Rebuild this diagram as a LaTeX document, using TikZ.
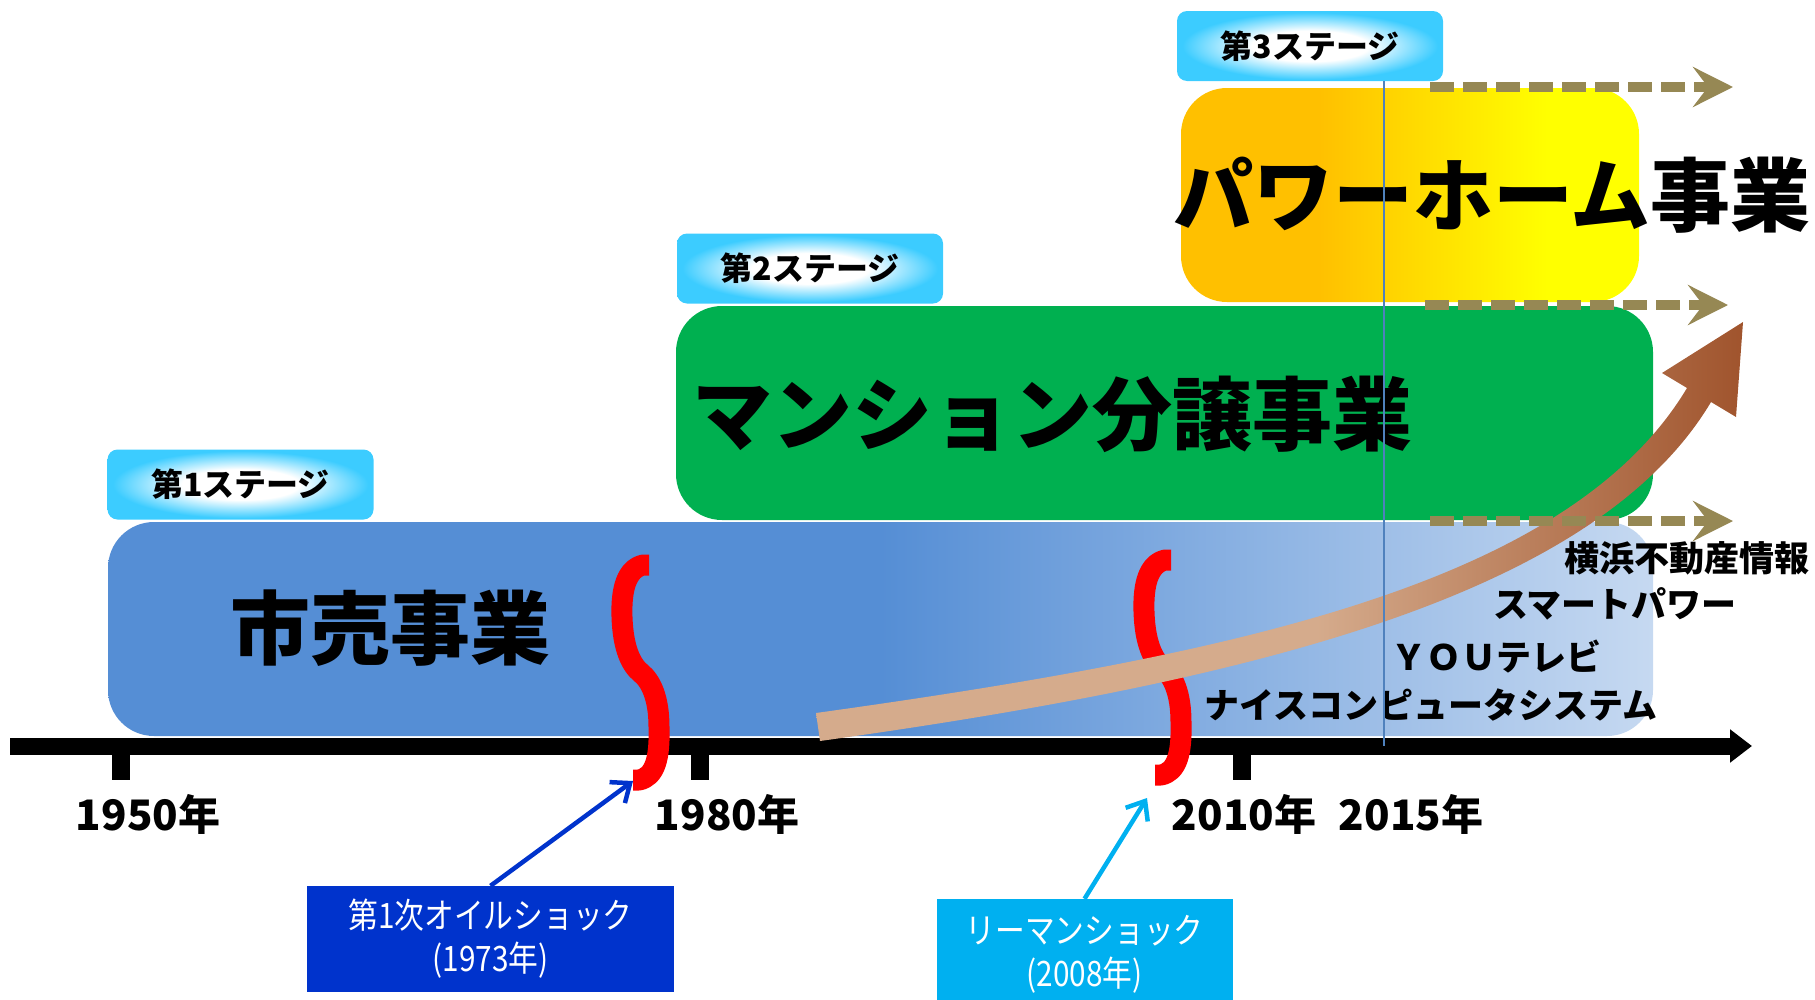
\documentclass[tikz,border=0pt]{standalone}
\usepackage{fontspec}
\setmainfont{Noto Sans CJK JP}
\usetikzlibrary{arrows.meta}

\definecolor{barblue}{RGB}{85,142,213}
\definecolor{barlight}{RGB}{198,217,241}
\definecolor{bargreen}{RGB}{0,176,80}
\definecolor{barorange}{RGB}{255,192,0}
\definecolor{baryellow}{RGB}{255,255,0}
\definecolor{stagecyan}{RGB}{60,204,255}
\definecolor{flowolive}{RGB}{150,136,84}
\definecolor{growtan}{RGB}{213,171,140}
\definecolor{growbrown}{RGB}{160,84,45}
\definecolor{oilblue}{RGB}{0,51,204}
\definecolor{lehmancyan}{RGB}{0,176,240}
\definecolor{markline}{RGB}{79,129,189}

\pgfdeclarehorizontalshading{stageone}{100bp}{color(0bp)=(barblue); color(50bp)=(barblue); color(75bp)=(barlight); color(100bp)=(barlight)}
\pgfdeclarehorizontalshading{stagethree}{100bp}{color(0bp)=(barorange); color(40bp)=(barorange); color(65bp)=(baryellow); color(100bp)=(baryellow)}
\pgfdeclarehorizontalshading{growth}{100bp}{color(0bp)=(growtan); color(52bp)=(growtan); color(75bp)=(growbrown); color(100bp)=(growbrown)}
\pgfdeclareradialshading{glow}{\pgfpoint{0bp}{0bp}}{color(0bp)=(white); color(11bp)=(white); color(24bp)=(stagecyan); color(50bp)=(stagecyan)}

\tikzset{
	breakmark/.pic={
		\draw[red, line width=21pt, line join=round] (8,-108) -- (2,-108) .. controls (-14,-104) and (-20,-85) .. (-19,-56) .. controls (-18,-25) and (-10,-8) .. (0,0) .. controls (10,8) and (18,25) .. (18,54) .. controls (19,85) and (14,104) .. (-2,107) -- (-8,107);
	}
}

\begin{document}
\begin{tikzpicture}[x=1pt,y=-1pt,
		bar/.style={rounded corners=46pt, minimum height=214pt, inner sep=0pt},
		stagebox/.style={shade, shading=glow, rounded corners=10pt, minimum width=266pt, minimum height=70pt, inner sep=0pt, font=\bfseries\fontsize{32}{36}\selectfont},
		bigtext/.style={font=\bfseries\fontsize{80}{90}\selectfont},
		yeartext/.style={font=\bfseries\fontsize{42}{48}\selectfont},
		listtext/.style={font=\bfseries\fontsize{35}{40}\selectfont},
		shockbox/.style={text=white, align=center, inner sep=0pt, font=\addfontfeatures{FakeStretch=0.85}\fontsize{35}{43}\selectfont},
		flowarrow/.style={draw=flowolive, line width=10pt, dash pattern=on 24pt off 9pt, -{Stealth[length=40pt,width=40pt,inset=15pt]}},
		shockarrow/.style={line width=4.5pt, -{Straight Barb[length=16pt,width=26pt]}},
		tick/.style={line width=18pt}]
		
		\useasboundingbox (0,0) rectangle (1815,999);
		
		% stages
		\node[bar, shade, shading=stageone, minimum width=1545pt] (bar1) at (880.5,629) {};
		\node[bar, fill=bargreen, minimum width=977pt] (bar2) at (1164.5,413) {};
		\node[bar, shade, shading=stagethree, minimum width=458pt] (bar3) at (1410,195) {};
		\node[stagebox] (stage1) at (240.5,484.5) {第1ステージ};
		\node[stagebox] (stage2) at (810,268.5) {第2ステージ};
		\node[stagebox] (stage3) at (1310,46) {第3ステージ};
		
		% time axis
		\coordinate (axstart) at (10,746);
		\coordinate (axend) at (1752,746);
		\draw[line width=17pt, -{Triangle[length=22pt,width=32pt]}] (axstart) -- (axend);
		\draw[tick] (121,746) -- (121,780);
		\draw[tick] (700,746) -- (700,780);
		\draw[tick] (1242,746) -- (1242,780);
		\node[yeartext] (y1950) at (148,814) {1950年};
		\node[yeartext] (y1980) at (727,814) {1980年};
		\node[yeartext] (y2010) at (1244,814) {2010年};
		\node[yeartext] (y2015) at (1411,814) {2015年};
		
		\node[bigtext] (shibai) at (390,628) {市売事業};
		\node[bigtext] (mansion) at (1052,414) {マンション分譲事業};
		\node[bigtext] (powerhome) at (1492,195) {パワーホーム事業};
		
		\node[listtext] (yokohama) at (1687,558) {横浜不動産情報};
		\node[listtext] (smart) at (1615,604) {スマートパワー};
		\node[listtext] (youtv) at (1496,657) {ＹＯＵテレビ};
		\node[listtext] (nice) at (1431,705) {ナイスコンピュータシステム};
		
		\pic at (641,673) {breakmark};
		\pic at (1163,668) {breakmark};
		
		% growth arrow
		\shade[shading=growth] (816,713) .. controls (1232,655) and (1569,585) .. (1687,388)
			-- (1662,373) -- (1743,322) -- (1736,417) -- (1711,402)
			.. controls (1593,600) and (1236,683) .. (820,741) -- cycle;
		
		\coordinate (f3a) at (1430,87);
		\coordinate (f3b) at (1733,87);
		\coordinate (f2a) at (1425,305);
		\coordinate (f2b) at (1728,305);
		\coordinate (f1a) at (1430,521);
		\coordinate (f1b) at (1733,521);
		\draw[flowarrow] (f3a) -- (f3b);
		\draw[flowarrow] (f2a) -- (f2b);
		\draw[flowarrow] (f1a) -- (f1b);
		
		\coordinate (m15top) at (1384,81);
		\coordinate (m15bot) at (1384,746);
		\draw[markline, line width=2pt] (m15top) -- (m15bot);
		
		% shocks
		\node[shockbox, fill=oilblue, minimum width=367pt, minimum height=106pt] (oil) at (490.5,939) {第1次オイルショック\\(1973年)};
		\node[shockbox, fill=lehmancyan, minimum width=296pt, minimum height=111pt] (lehman) at (1084.5,954.5) {リーマンショック\\(2008年)};
		\coordinate (b1tip) at (633,781);
		\coordinate (b2tip) at (1147,798);
		\draw[shockarrow, oilblue] (oil.north) -- (b1tip);
		\draw[shockarrow, lehmancyan] (lehman.north) -- (b2tip);
		
	\end{tikzpicture}
\end{document}
